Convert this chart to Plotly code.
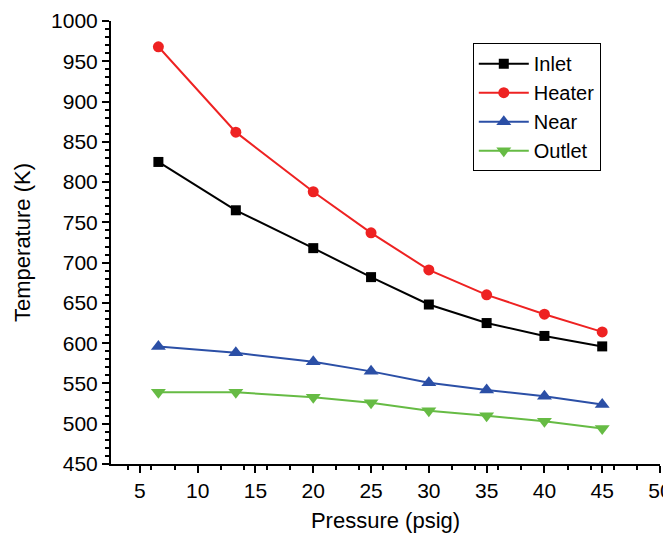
import plotly.graph_objects as go

pressure = [6.6, 13.3, 20, 25, 30, 35, 40, 45]
inlet = [825, 765, 718, 682, 648, 625, 609, 596]
heater = [968, 862, 788, 737, 691, 660, 636, 614]
near = [596, 588, 577, 565, 551, 542, 534, 524]
outlet = [539, 539, 533, 526, 516, 510, 503, 494]

series = [
    ("Inlet", inlet, "#000000", "square", 10),
    ("Heater", heater, "#ee2222", "circle", 11),
    ("Near", near, "#2b4fa6", "triangle-up", 13),
    ("Outlet", outlet, "#66bb44", "triangle-down", 13),
]

FONT = "Liberation Sans, Arial, sans-serif"

fig = go.Figure()
for name, vals, col, sym, sz in series:
    fig.add_trace(go.Scatter(
        x=pressure, y=vals, name=name, mode="lines+markers",
        line=dict(color=col, width=2),
        marker=dict(symbol=sym, size=sz, color=col),
    ))

axis_common = dict(
    showline=True, linecolor="black", linewidth=2,
    ticks="outside", tickcolor="black", tickwidth=2, ticklen=7,
    showgrid=False, zeroline=False, mirror=False, automargin=False,
    ticklabeloverflow="allow",
    tickfont=dict(family=FONT, size=21, color="black"),
    minor=dict(ticks="outside", ticklen=4, tickwidth=2, tickcolor="black"),
)

fig.update_xaxes(range=[2.5, 50], tickvals=[5, 10, 15, 20, 25, 30, 35, 40, 45, 50],
                 title=dict(text="Pressure (psig)", standoff=14,
                            font=dict(family=FONT, size=22, color="black")),
                 **axis_common)
fig.update_yaxes(range=[450, 1000], dtick=50,
                 title=dict(text="Temperature (K)", standoff=14,
                            font=dict(family=FONT, size=22, color="black")),
                 **axis_common)

# page body has an 8px default margin, so the figure is offset for it
fig.update_layout(
    width=671, height=525,
    margin=dict(l=103, r=19, t=13, b=69),
    paper_bgcolor="white", plot_bgcolor="white",
    legend=dict(x=0.659, y=0.95, xanchor="left", yanchor="top",
                bordercolor="black", borderwidth=1, bgcolor="white",
                font=dict(family=FONT, size=20, color="black"),
                itemwidth=50, tracegroupgap=0),
)

fig.write_html("out.html")
